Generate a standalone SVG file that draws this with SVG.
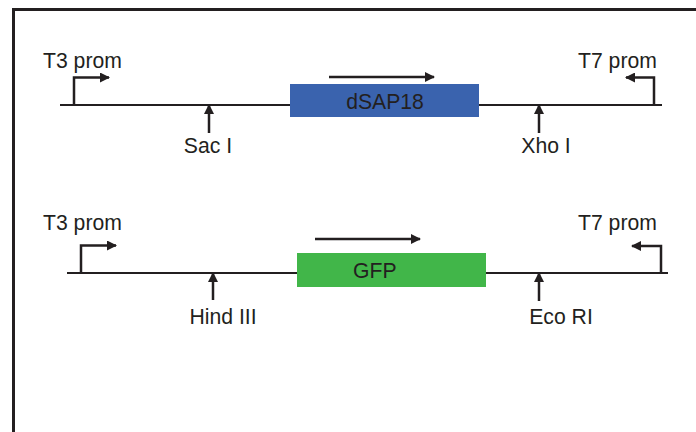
<svg xmlns="http://www.w3.org/2000/svg" width="696" height="432" viewBox="0 0 696 432">
<defs>
<marker id="ah" viewBox="0 0 10 10" refX="9" refY="5" markerWidth="4" markerHeight="4" orient="auto" markerUnits="strokeWidth">
<path d="M0,0 L10,5 L0,10 z" fill="#231f20"/>
</marker>
<style>
.t{font-family:"Liberation Sans",Arial,sans-serif;font-size:21.2px;fill:#231f20}
.ln{stroke:#231f20;stroke-width:2;fill:none}
.ar{stroke:#231f20;stroke-width:2.5;fill:none;marker-end:url(#ah)}
</style>
</defs>
<rect width="696" height="432" fill="#fff"/>
<path d="M13.5,432 V9.5 H696" fill="none" stroke="#231f20" stroke-width="3"/>
<g id="connectors">
<line class="ln" x1="60" y1="105" x2="290" y2="105"/>
<line class="ln" x1="479" y1="105" x2="662" y2="105"/>
<line class="ln" x1="67" y1="273" x2="297" y2="273"/>
<line class="ln" x1="486" y1="273" x2="668" y2="273"/>
</g>
<g id="row1">
<g id="t3prom1"><path class="ar" d="M74,105 V77.5 H109"/><text class="t" x="43" y="68">T3 prom</text></g>
<g id="dsap18"><rect x="290" y="84" width="189" height="33" fill="#3a63ae"/><text class="t" x="385" y="109" text-anchor="middle">dSAP18</text><line class="ar" x1="329" y1="77" x2="434" y2="77"/></g>
<g id="saci"><line class="ar" x1="209" y1="133" x2="209" y2="105"/><text class="t" x="208" y="153" text-anchor="middle">Sac I</text></g>
<g id="xhoi"><line class="ar" x1="539" y1="133" x2="539" y2="105"/><text class="t" x="546" y="153" text-anchor="middle">Xho I</text></g>
<g id="t7prom1"><path class="ar" d="M654,105 V77.5 H626"/><text class="t" x="578" y="68">T7 prom</text></g>
</g>
<g id="row2">
<g id="t3prom2"><path class="ar" d="M81,273 V245.5 H116"/><text class="t" x="43" y="230">T3 prom</text></g>
<g id="gfp"><rect x="297" y="253" width="189" height="34" fill="#41b649"/><text class="t" x="353" y="278">GFP</text><line class="ar" x1="315" y1="239" x2="420" y2="239"/></g>
<g id="hindiii"><line class="ar" x1="213" y1="300" x2="213" y2="273"/><text class="t" x="223" y="324" text-anchor="middle">Hind III</text></g>
<g id="ecori"><line class="ar" x1="539" y1="301" x2="539" y2="273"/><text class="t" x="561" y="324" text-anchor="middle">Eco RI</text></g>
<g id="t7prom2"><path class="ar" d="M661,273 V246 H632"/><text class="t" x="578" y="230">T7 prom</text></g>
</g>
</svg>
